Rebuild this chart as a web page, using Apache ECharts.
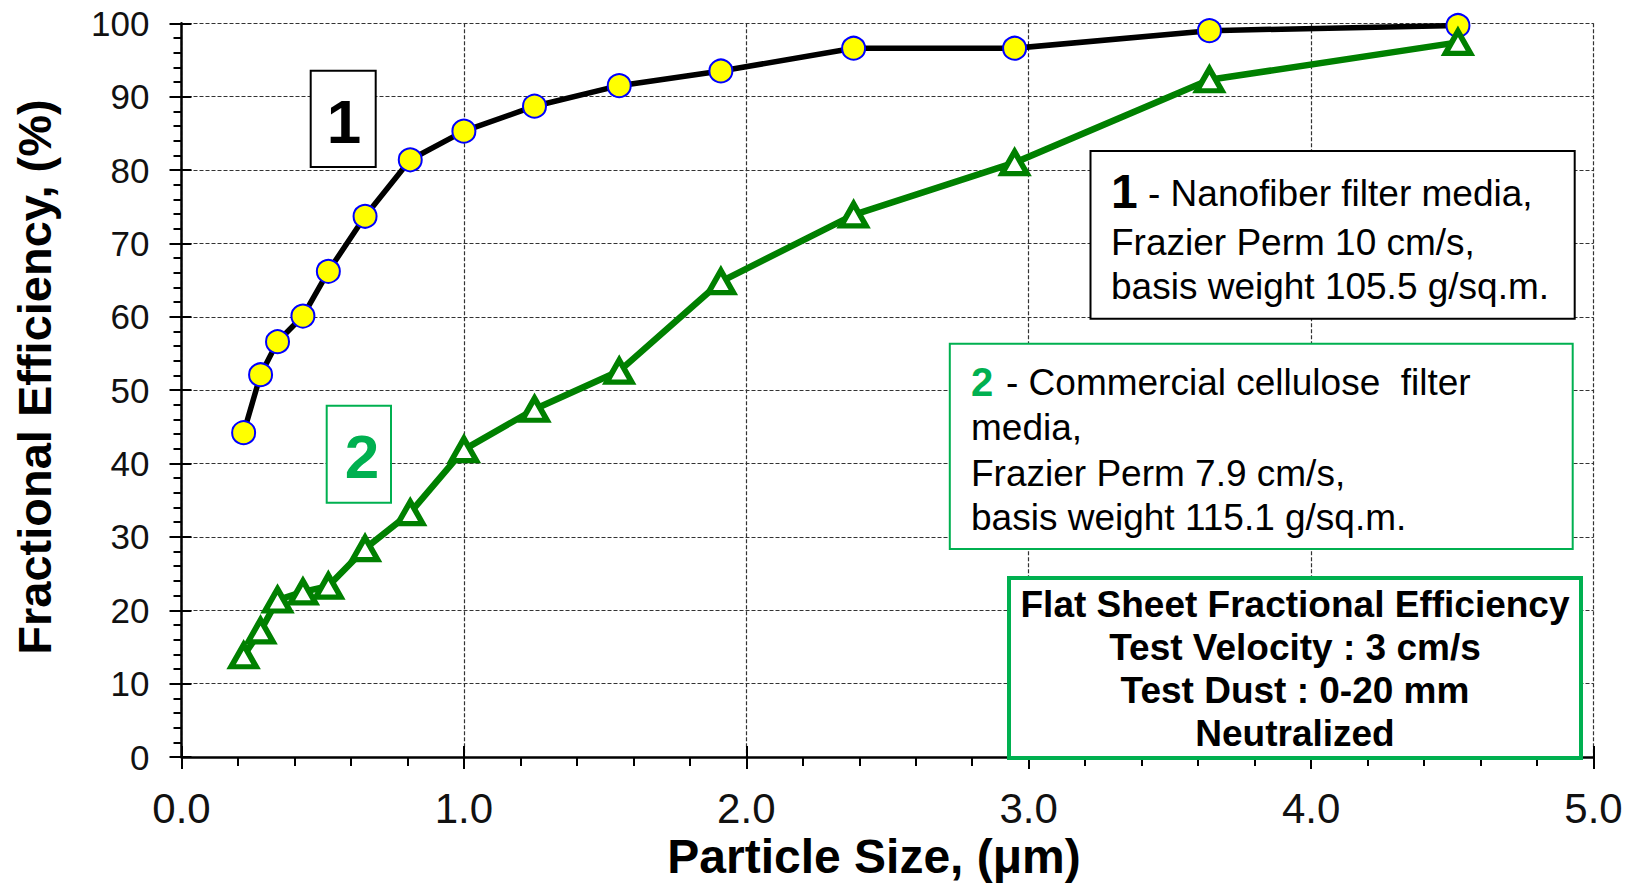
<!DOCTYPE html>
<html>
<head>
<meta charset="utf-8">
<script src="https://cdn.jsdelivr.net/npm/echarts@6/dist/echarts.min.js"></script>
<style>
html,body{margin:0;padding:0;background:#fff;}
#chart{width:1633px;height:883px;}
</style>
</head>
<body>
<div id="chart"></div>
<script>
// ---- data ----
const particleSize = [0.22, 0.28, 0.34, 0.43, 0.52, 0.65, 0.81, 1.00, 1.25, 1.55, 1.91, 2.38, 2.95, 3.64, 4.52];
const nanofiberEff = [44.2, 52.1, 56.6, 60.1, 66.2, 73.7, 81.4, 85.3, 88.7, 91.5, 93.5, 96.6, 96.6, 99.0, 99.7];
const celluloseEff = [13.8, 17.2, 21.4, 22.5, 23.3, 28.4, 33.3, 41.9, 47.4, 52.6, 64.8, 73.9, 81.0, 92.3, 97.4];
const xTitle = 'Particle Size, (\u03bcm)';
const yTitle = 'Fractional Efficiency, (%)';
const legend1 = ['1', '- Nanofiber filter media,', 'Frazier Perm 10 cm/s,', 'basis weight 105.5 g/sq.m.'];
const legend2 = ['2', '- Commercial cellulose  filter', 'media,', 'Frazier Perm 7.9 cm/s,', 'basis weight 115.1 g/sq.m.'];
const infoLines = ['Flat Sheet Fractional Efficiency', 'Test Velocity : 3 cm/s', 'Test Dust : 0-20 mm', 'Neutralized'];

const FONT = '"Liberation Sans", Arial, Helvetica, sans-serif';
const GREEN = '#00b050';
const DKGREEN = '#008000';

function zip(xs, ys){ return xs.map((x,i)=>[x, ys[i]]); }

const chart = echarts.init(document.getElementById('chart'), null, {renderer:'svg', width:1633, height:883});

const gridLine = {show:true, lineStyle:{color:'#333', width:1.2, type:[4,2]}};

const option = {
  animation:false,
  backgroundColor:'#fff',
  grid:{left:181.5, right:39.5, top:23.3, bottom:126, containLabel:false},
  xAxis:[{
    type:'value', min:0, max:5, interval:1,
    axisLine:{show:true, onZero:false, lineStyle:{color:'#000', width:2.5}},
    axisTick:{show:true, inside:false, length:12, lineStyle:{color:'#000', width:2}},
    minorTick:{show:true, splitNumber:5, length:9, lineStyle:{color:'#000', width:2}},
    axisLabel:{color:'#111', fontFamily:FONT, fontSize:42, margin:30, formatter:v=>v.toFixed(1)},
    splitLine:gridLine
  },{
    type:'value', min:0, max:5, interval:1, position:'bottom',
    axisLine:{show:false, onZero:false},
    axisTick:{show:true, inside:true, length:11, lineStyle:{color:'#000', width:2}},
    axisLabel:{show:false}, splitLine:{show:false}
  }],
  yAxis:[{
    type:'value', min:0, max:100, interval:10,
    axisLine:{show:true, onZero:false, lineStyle:{color:'#000', width:2.5}},
    axisTick:{show:true, inside:false, length:12, lineStyle:{color:'#000', width:2}},
    minorTick:{show:true, splitNumber:5, length:8, lineStyle:{color:'#000', width:2}},
    axisLabel:{color:'#111', fontFamily:FONT, fontSize:35, margin:32},
    splitLine:gridLine
  },{
    type:'value', min:0, max:100, interval:10, position:'left',
    axisLine:{show:false, onZero:false},
    axisTick:{show:true, inside:true, length:10, lineStyle:{color:'#000', width:2}},
    axisLabel:{show:false}, splitLine:{show:false}
  }],
  series:[{
    name:'Nanofiber', type:'line', xAxisIndex:0, yAxisIndex:0,
    data:zip(particleSize, nanofiberEff),
    symbol:'circle', symbolSize:23, showAllSymbol:true,
    lineStyle:{color:'#000', width:5.5},
    itemStyle:{color:'#ffff00', borderColor:'#0000ff', borderWidth:2}
  },{
    name:'Cellulose', type:'line', xAxisIndex:0, yAxisIndex:0,
    data:zip(particleSize, celluloseEff),
    symbol:'triangle', symbolSize:[25,22], showAllSymbol:true,
    lineStyle:{color:DKGREEN, width:6.5},
    itemStyle:{color:'#ffffff', borderColor:DKGREEN, borderWidth:5.5}
  }],
  graphic:[
    // axis titles
    {type:'text', z:100, x:874, y:856, style:{text:xTitle, font:'bold 48px '+FONT, fill:'#000', align:'center', verticalAlign:'middle'}},
    {type:'text', z:100, x:34, y:377, rotation:Math.PI/2, style:{text:yTitle, font:'bold 47px '+FONT, fill:'#000', align:'center', verticalAlign:'middle'}},
    // boxed labels on curves
    {type:'rect', z:100, shape:{x:310.7, y:70.7, width:65, height:96.3}, style:{fill:'#fff', stroke:'#000', lineWidth:2}},
    {type:'text', z:101, x:344, y:121, style:{text:legend1[0], font:'bold 62px '+FONT, fill:'#000', align:'center', verticalAlign:'middle'}},
    {type:'rect', z:100, shape:{x:326.7, y:405.7, width:64.3, height:97}, style:{fill:'#fff', stroke:GREEN, lineWidth:2}},
    {type:'text', z:101, x:362, y:456, style:{text:legend2[0], font:'bold 62px '+FONT, fill:GREEN, align:'center', verticalAlign:'middle'}},
    // legend box 1
    {type:'rect', z:100, shape:{x:1090.5, y:151, width:484.2, height:167.7}, style:{fill:'#fff', stroke:'#000', lineWidth:2}},
    {type:'text', z:101, x:1111, y:191, style:{text:legend1[0], font:'bold 48px '+FONT, fill:'#000', align:'left', verticalAlign:'middle'}},
    {type:'text', z:101, x:1148, y:193.5, style:{text:legend1[1], font:'37px '+FONT, fill:'#000', align:'left', verticalAlign:'middle'}},
    {type:'text', z:101, x:1111, y:242, style:{text:legend1[2], font:'37px '+FONT, fill:'#000', align:'left', verticalAlign:'middle'}},
    {type:'text', z:101, x:1111, y:286, style:{text:legend1[3], font:'37px '+FONT, fill:'#000', align:'left', verticalAlign:'middle'}},
    // legend box 2
    {type:'rect', z:100, shape:{x:949.8, y:343.7, width:622.9, height:205.2}, style:{fill:'#fff', stroke:GREEN, lineWidth:2}},
    {type:'text', z:101, x:971, y:382, style:{text:legend2[0], font:'bold 40px '+FONT, fill:GREEN, align:'left', verticalAlign:'middle'}},
    {type:'text', z:101, x:1006, y:382, style:{text:legend2[1], font:'37px '+FONT, fill:'#000', align:'left', verticalAlign:'middle'}},
    {type:'text', z:101, x:971, y:427, style:{text:legend2[2], font:'37px '+FONT, fill:'#000', align:'left', verticalAlign:'middle'}},
    {type:'text', z:101, x:971, y:473, style:{text:legend2[3], font:'37px '+FONT, fill:'#000', align:'left', verticalAlign:'middle'}},
    {type:'text', z:101, x:971, y:517.6, style:{text:legend2[4], font:'37px '+FONT, fill:'#000', align:'left', verticalAlign:'middle'}},
    // info box
    {type:'rect', z:100, shape:{x:1009, y:578, width:572, height:180}, style:{fill:'#fff', stroke:GREEN, lineWidth:4}},
    {type:'text', z:101, x:1295, y:604, style:{text:infoLines[0], font:'bold 37px '+FONT, fill:'#000', align:'center', verticalAlign:'middle'}},
    {type:'text', z:101, x:1295, y:647, style:{text:infoLines[1], font:'bold 37px '+FONT, fill:'#000', align:'center', verticalAlign:'middle'}},
    {type:'text', z:101, x:1295, y:690, style:{text:infoLines[2], font:'bold 37px '+FONT, fill:'#000', align:'center', verticalAlign:'middle'}},
    {type:'text', z:101, x:1295, y:733, style:{text:infoLines[3], font:'bold 37px '+FONT, fill:'#000', align:'center', verticalAlign:'middle'}}
  ]
};
chart.setOption(option);
</script>
</body>
</html>
